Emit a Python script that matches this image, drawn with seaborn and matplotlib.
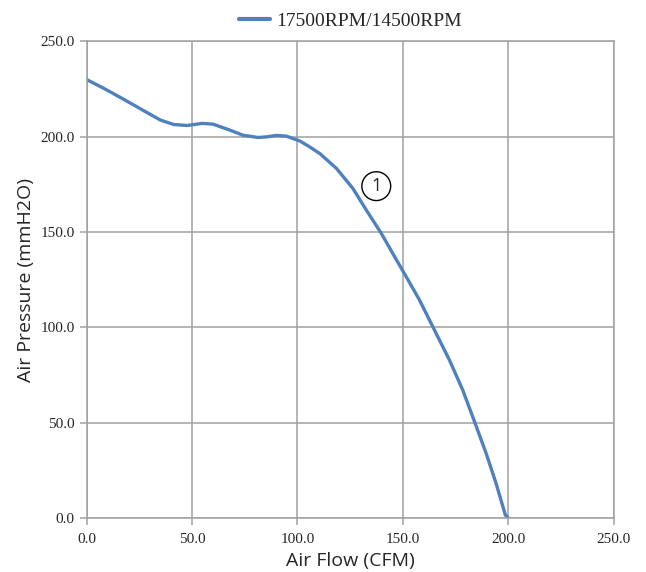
import matplotlib
matplotlib.use("Agg")
import matplotlib.pyplot as plt
import seaborn as sns
import pandas as pd

# P-Q curve
air_flow = [0.0, 8.3, 17.8, 27.2, 35.1, 41.4, 47.7, 54.8, 60.0, 67.9, 74.2, 81.3,
            86.0, 90.0, 94.8, 101.1, 105.5, 110.6, 118.5, 126.3, 132.7, 139.8,
            146.1, 151.6, 157.9, 164.2, 172.1, 178.4, 184.0, 189.5, 194.2, 198.6, 200.0]
air_pressure = [229.9, 225.2, 219.4, 213.5, 208.6, 206.3, 205.8, 206.9, 206.5, 203.4,
                200.7, 199.5, 199.9, 200.6, 200.2, 197.7, 194.8, 191.1, 183.3, 172.8,
                161.4, 149.2, 137.0, 126.5, 114.3, 100.3, 82.8, 67.1, 50.5, 33.9,
                18.2, 1.6, 0.0]
series_name = "17500RPM/14500RPM"
ticks = [0, 50, 100, 150, 200, 250]

df = pd.DataFrame({"flow": air_flow, "pressure": air_pressure, "curve": series_name})

sns.set_style("white")
grid_c = "#a0a0a0"

fig = plt.figure(figsize=(6.46, 5.72), dpi=100)
ax = fig.add_axes([0.134, 0.0944, 0.816, 0.8336])

sns.lineplot(data=df, x="flow", y="pressure", hue="curve", palette=["#4f81bd"],
             linewidth=2.4, sort=False, ax=ax, legend=True)
ax.get_lines()[0].set_solid_joinstyle("round")

ax.set_xlim(0, 250)
ax.set_ylim(0, 250)
ax.set_xticks(ticks)
ax.set_yticks(ticks)
ax.set_xticklabels([f"{t:.1f}" for t in ticks], family="Liberation Serif", fontsize=11)
ax.set_yticklabels([f"{t:.1f}" for t in ticks], family="Liberation Serif", fontsize=11)
ax.grid(True, color=grid_c, linewidth=1.1)
ax.set_axisbelow(True)
for s in ax.spines.values():
    s.set_color(grid_c)
    s.set_linewidth(1.1)
ax.tick_params(axis="both", direction="out", length=5, width=1.1, color=grid_c,
               bottom=True, left=True)
ax.tick_params(axis="x", pad=6)

ax.set_xlabel("Air Flow (CFM)", family="Open Sans", fontsize=14, labelpad=4)
ax.set_ylabel("Air Pressure (mmH2O)", family="Open Sans", fontsize=14, labelpad=4)

# curve marker
ax.text(137.4, 174.0, "1", family="Open Sans", fontsize=13, ha="center", va="center",
        bbox=dict(boxstyle="circle,pad=0.3", fc="white", ec="black", lw=1.0))

leg = ax.legend(loc="lower center", bbox_to_anchor=(0.5, 1.0), frameon=False,
                prop={"family": "Liberation Serif", "size": 14}, handlelength=1.6,
                handletextpad=0.3, borderaxespad=0.2)
for line in leg.get_lines():
    line.set_linewidth(3)

fig.savefig("out.png", dpi=100)
